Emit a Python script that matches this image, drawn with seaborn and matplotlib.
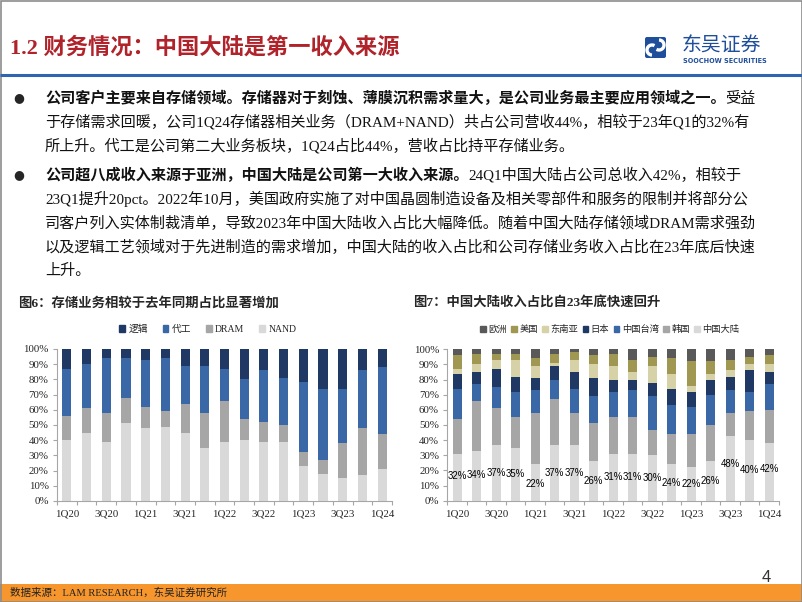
import numpy as np
import matplotlib
matplotlib.use('Agg')
import matplotlib.pyplot as plt
import matplotlib.patches as mpatches
import seaborn as sns

# categories
quarters = ['1Q20', '2Q20', '3Q20', '4Q20', '1Q21', '2Q21', '3Q21', '4Q21', '1Q22',
            '2Q22', '3Q22', '4Q22', '1Q23', '2Q23', '3Q23', '4Q23', '1Q24']
tick_labels = ['1Q20', '3Q20', '1Q21', '3Q21', '1Q22', '3Q22', '1Q23', '3Q23', '1Q24']

# 图6: revenue share by business (%)
nand = [40, 45, 39, 51, 48, 49, 45, 35, 39, 40, 39, 39, 23, 18, 15, 17, 21]
dram = [16, 16, 19, 17, 14, 10, 19, 23, 27, 14, 13, 11, 9, 9, 23, 31, 23]
foundry = [31, 29, 36, 26, 31, 35, 25, 31, 21, 26, 34, 31, 46, 47, 36, 38, 44]
logic = [13, 10, 6, 6, 7, 6, 11, 11, 13, 20, 14, 19, 22, 26, 26, 14, 12]

# 图7: revenue share by region (%)
china = [31, 33, 37, 35, 24, 37, 37, 26, 31, 31, 30, 24, 22, 26, 43, 40, 38]
korea = [23, 33, 24, 20, 34, 30, 21, 25, 24, 24, 17, 20, 22, 24, 15, 19, 22]
taiwan = [20, 11, 14, 17, 15, 13, 16, 18, 17, 18, 22, 19, 18, 20, 15, 13, 17]
japan = [10, 8, 12, 10, 8, 9, 11, 12, 8, 7, 9, 11, 10, 10, 9, 14, 8]
sea = [3, 5, 6, 11, 8, 2, 8, 9, 9, 5, 11, 10, 4, 4, 4, 4, 5]
usa = [9, 7, 4, 4, 5, 6, 5, 6, 8, 8, 6, 10, 16, 8, 7, 5, 6]
europe = [4, 3, 3, 3, 6, 3, 2, 4, 3, 7, 5, 6, 8, 8, 7, 5, 4]
# the printed labels for China mainland
china_labels = [32, 34, 37, 35, 22, 37, 37, 26, 31, 31, 30, 24, 22, 26, 48, 40, 42]

sns.set_theme(style='white')
plt.rcParams['font.family'] = ['Liberation Serif', 'Noto Sans CJK SC', 'DejaVu Sans']
plt.rcParams['axes.unicode_minus'] = False

W, H = 802, 602
fig = plt.figure(figsize=(8.02, 6.02), dpi=100)
fig.patch.set_facecolor('white')

# background axes in pixel coords for slide decorations
bg = fig.add_axes([0, 0, 1, 1], zorder=0)
bg.set_xlim(0, W)
bg.set_ylim(H, 0)
bg.axis('off')

cjk = ['Liberation Serif', 'Noto Sans CJK SC', 'DejaVu Sans']

# header
bg.text(10, 48, '1.2 财务情况：中国大陆是第一收入来源', fontsize=16, weight='bold',
        color='#B0232A', va='center', ha='left', family=cjk)
bg.add_patch(mpatches.FancyBboxPatch((645, 37), 21, 21, boxstyle='round,pad=0,rounding_size=2',
                                     fc='#1F4E9A', ec='none'))
bg.add_patch(mpatches.Arc((652, 50), 10, 10, theta1=90, theta2=300, color='white', lw=2.4))
bg.add_patch(mpatches.Arc((659, 45), 10, 10, theta1=270, theta2=480, color='white', lw=2.4))
bg.text(682, 46, '东吴证券', fontsize=14.3, color='#1F4E9A', va='center', ha='left',
        family=['Noto Sans CJK SC'])
bg.text(683, 61, 'SOOCHOW SECURITIES', fontsize=4.7, weight='bold', color='#1F4E9A',
        va='center', ha='left', family=['DejaVu Sans'])
bg.plot([0, W], [75, 75], color='#2E64B0', lw=2.2, solid_capstyle='butt')

# bullet text
FS = 10.9


def write_line(x, y, parts):
    t = None
    for s, bold in parts:
        kw = dict(fontsize=FS, weight='bold' if bold else 'normal', color='#111111',
                  family=cjk, ha='left')
        if t is None:
            t = bg.text(x, y, s, va='center', **kw)
        else:
            t = bg.annotate(s, xy=(1, 0), xycoords=t, va='bottom', **kw)


lines = [
    (98, [('公司客户主要来自存储领域。存储器对于刻蚀、薄膜沉积需求量大，是公司业务最主要应用领域之一。', True), ('受益', False)]),
    (122, [('于存储需求回暖，公司1Q24存储器相关业务（DRAM+NAND）共占公司营收44%，相较于23年Q1的32%有', False)]),
    (146, [('所上升。代工是公司第二大业务板块，1Q24占比44%，营收占比持平存储业务。', False)]),
    (175, [('公司超八成收入来源于亚洲，中国大陆是公司第一大收入来源。', True), ('24Q1中国大陆占公司总收入42%，相较于', False)]),
    (199, [('23Q1提升20pct。2022年10月，美国政府实施了对中国晶圆制造设备及相关零部件和服务的限制并将部分公', False)]),
    (223, [('司客户列入实体制裁清单，导致2023年中国大陆收入占比大幅降低。随着中国大陆存储领域DRAM需求强劲', False)]),
    (247, [('以及逻辑工艺领域对于先进制造的需求增加，中国大陆的收入占比和公司存储业务收入占比在23年底后快速', False)]),
    (271, [('上升。', False)]),
]
for y, parts in lines:
    write_line(45, y, parts)
for y in (98, 175):
    bg.text(19, y, '●', fontsize=9, family=['DejaVu Sans'], va='center', ha='center')

# chart titles
bg.text(18, 303, '图6：存储业务相较于去年同期占比显著增加', fontsize=9.6, weight='bold',
        va='center', ha='left', family=cjk)
bg.text(413, 303, '图7：中国大陆收入占比自23年底快速回升', fontsize=9.6, weight='bold',
        va='center', ha='left', family=cjk)

# footer
bg.add_patch(mpatches.Rectangle((0, 584), W, 18, fc='#F7962D', ec='none'))
bg.text(10, 593, '数据来源：LAM RESEARCH，东吴证券研究所', fontsize=7.6, color='#222222',
        va='center', ha='left', family=cjk)
bg.text(766, 577, '4', fontsize=12, color='#333333', va='center', ha='center',
        family=['Liberation Sans'])
bg.add_patch(mpatches.Rectangle((0.5, 0.5), W - 1, H - 1, fill=False, ec='#8c8c8c', lw=1.2))


def style_axis(ax):
    ax.set_xlim(-0.5, len(quarters) - 0.5)
    ax.set_ylim(0, 100)
    ax.set_xlabel('')
    ax.set_ylabel('')
    ax.set_yticks(np.arange(0, 101, 10))
    ax.set_yticklabels([f'{v}%' for v in range(0, 101, 10)])
    ax.set_xticks(np.arange(0, len(quarters), 2))
    ax.set_xticklabels(tick_labels)
    ax.set_xticks(np.arange(-0.5, len(quarters), 1), minor=True)
    ax.tick_params(axis='x', which='major', length=0, pad=6, labelsize=7.8)
    ax.tick_params(axis='x', which='minor', length=3, width=0.8, color='#a6a6a6',
                   direction='out', bottom=True)
    ax.tick_params(axis='y', length=3, width=0.8, color='#a6a6a6', direction='out',
                   left=True, pad=3, labelsize=7.8)
    for side in ('top', 'right'):
        ax.spines[side].set_visible(False)
    for side in ('left', 'bottom'):
        ax.spines[side].set_color('#a6a6a6')
        ax.spines[side].set_linewidth(0.8)
    ax.set_facecolor('none')


def stacked(ax, series, colors, width):
    cum = np.cumsum(np.array(series, dtype=float), axis=0)
    # draw from the tallest cumulative down so lower segments sit on top
    for i in range(len(series) - 1, -1, -1):
        sns.barplot(x=quarters, y=cum[i], color=colors[i], width=width, saturation=1,
                    errorbar=None, ax=ax, edgecolor='none')


# 图6
ax1 = fig.add_axes([57 / W, 1 - 501 / H, 335 / W, 152 / H], zorder=2)
c1 = ['#D9D9D9', '#A6A6A6', '#3A67A6', '#1F3864']
stacked(ax1, [nand, dram, foundry, logic], c1, 0.46)
style_axis(ax1)
h1 = [mpatches.Patch(color=c, label=l) for c, l in
      zip(c1[::-1], ['逻辑', '代工', 'DRAM', 'NAND'])]
ax1.legend(handles=h1, loc='center', bbox_to_anchor=(0.45, 1.13), ncol=4, frameon=False,
           handlelength=0.6, handleheight=0.6, handletextpad=0.35,
           columnspacing=1.5, prop={'family': cjk, 'size': 7})

# 图7
ax2 = fig.add_axes([447.3 / W, 1 - 500.7 / H, 331.7 / W, 151.4 / H], zorder=2)
c2 = ['#D9D9D9', '#A6A6A6', '#3A67A6', '#1F3864', '#D6D1A6', '#A09752', '#595959']
stacked(ax2, [china, korea, taiwan, japan, sea, usa, europe], c2, 0.46)
style_axis(ax2)
for i, v in enumerate(china_labels):
    ax2.text(i, v / 2, f'{v}%', ha='center', va='center', fontsize=6.9, color='black',
             family=['Liberation Sans'])
h2 = [mpatches.Patch(color=c, label=l) for c, l in
      zip(c2[::-1], ['欧洲', '美国', '东南亚', '日本', '中国台湾', '韩国', '中国大陆'])]
ax2.legend(handles=h2, loc='center', bbox_to_anchor=(0.49, 1.13), ncol=7, frameon=False,
           handlelength=0.6, handleheight=0.6, handletextpad=0.25,
           columnspacing=0.5, prop={'family': cjk, 'size': 6.7})

fig.savefig('out.png', dpi=100)
